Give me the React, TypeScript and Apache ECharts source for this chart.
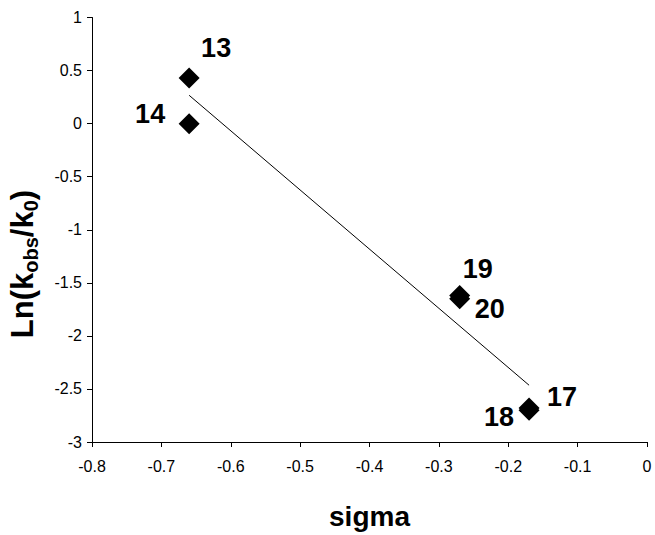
import React, { useEffect, useRef } from "react";
import * as echarts from "echarts";

// Compound labels, sigma values (x) and Ln(kobs/k0) values (y)
const compounds = ["13", "14", "19", "20", "17", "18"];
const sigma = [-0.66, -0.66, -0.27, -0.27, -0.17, -0.17];
const lnRatio = [0.43, 0.0, -1.62, -1.65, -2.68, -2.7];
// Trend line end points
const trendX = [-0.66, -0.17];
const trendY = [0.267, -2.465];
// Axis tick settings
const xTicks = { min: -0.8, max: 0, interval: 0.1 };
const yTicks = { min: -3, max: 1, interval: 0.5 };

// label offsets relative to each marker (style only)
const labelOffsets: Record<string, [number, number]> = {
  "13": [27, -30],
  "14": [-39, -10],
  "19": [18, -27],
  "20": [30, 10],
  "17": [33, -11],
  "18": [-30, 7],
};

const FONT = "'Liberation Sans', Arial, Helvetica, sans-serif";

export default function App() {
  const ref = useRef<HTMLDivElement>(null);
  useEffect(() => {
    if (!ref.current) return;
    const chart = echarts.init(ref.current, undefined, { renderer: "svg" });
    const scatterData = compounds.map((name, i) => ({
      name,
      value: [sigma[i], lnRatio[i]],
      label: { offset: labelOffsets[name] },
    }));
    chart.setOption({
      animation: false,
      backgroundColor: "#ffffff",
      grid: { left: 92, right: 8, top: 17.5, bottom: 82, containLabel: false },
      graphic: [
        {
          type: "text",
          x: 24,
          y: 264,
          rotation: Math.PI / 2,
          style: {
            text: "{m|Ln(k}{s|obs}{m|/k}{s|0}{m|)}",
            align: "center",
            verticalAlign: "middle",
            fill: "#000",
            rich: {
              m: {
                fontFamily: FONT,
                fontSize: 31,
                fontWeight: "bold",
                fill: "#000",
                color: "#000",
                verticalAlign: "bottom",
                padding: [0, 0, 3, 0],
              },
              s: {
                fontFamily: FONT,
                fontSize: 20,
                fontWeight: "bold",
                fill: "#000",
                color: "#000",
                verticalAlign: "bottom",
              },
            },
          },
        },
      ],
      xAxis: {
        type: "value",
        min: xTicks.min,
        max: xTicks.max,
        interval: xTicks.interval,
        name: "sigma",
        nameLocation: "middle",
        nameGap: 60,
        nameTextStyle: {
          fontFamily: FONT,
          fontSize: 28,
          fontWeight: "bold",
          color: "#000",
        },
        axisLine: { show: true, onZero: false, lineStyle: { color: "#000", width: 1 } },
        axisTick: { show: true, inside: false, length: 5, lineStyle: { color: "#000" } },
        splitLine: { show: false },
        axisLabel: {
          fontFamily: FONT,
          fontSize: 16,
          color: "#000",
          margin: 16,
          formatter: (v: number) => String(Math.round(v * 10) / 10),
        },
      },
      yAxis: {
        type: "value",
        min: yTicks.min,
        max: yTicks.max,
        interval: yTicks.interval,
        axisLine: { show: true, onZero: false, lineStyle: { color: "#000", width: 1 } },
        axisTick: { show: true, inside: false, length: 5, lineStyle: { color: "#000" } },
        splitLine: { show: false },
        axisLabel: {
          fontFamily: FONT,
          fontSize: 16,
          color: "#000",
          margin: 10,
          formatter: (v: number) => String(Math.round(v * 10) / 10),
        },
      },
      series: [
        {
          type: "line",
          data: trendX.map((x, i) => [x, trendY[i]]),
          symbol: "none",
          lineStyle: { color: "#000", width: 1 },
          z: 1,
        },
        {
          type: "scatter",
          data: scatterData,
          symbol: "diamond",
          symbolSize: 21,
          itemStyle: { color: "#000", opacity: 1 },
          z: 2,
          label: {
            show: true,
            position: "inside",
            formatter: "{b}",
            fontFamily: FONT,
            fontSize: 27,
            fontWeight: "bold",
            color: "#000",
            opacity: 1,
            align: "center",
            verticalAlign: "middle",
          },
        },
      ],
    });
    return () => chart.dispose();
  }, []);
  return (
    <div
      ref={ref}
      style={{ position: "fixed", left: 0, top: 0, width: 655, height: 535 }}
    />
  );
}
